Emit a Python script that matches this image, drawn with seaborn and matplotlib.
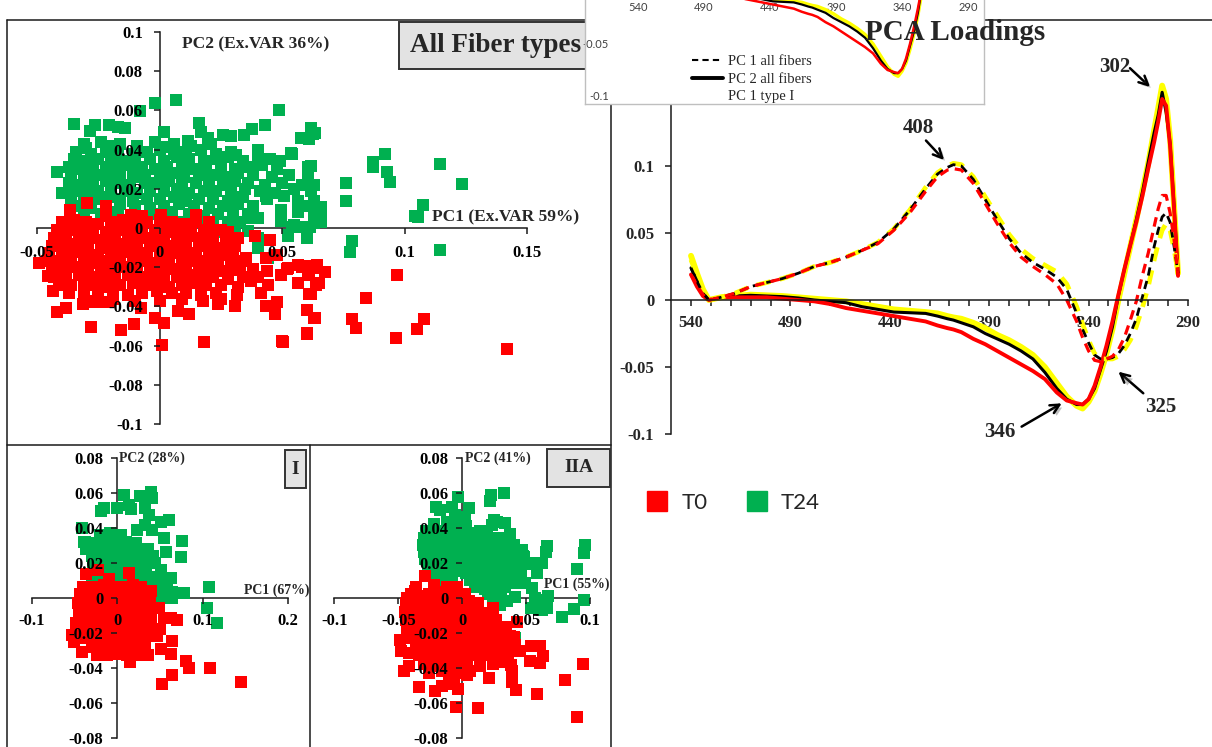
import matplotlib
matplotlib.use("Agg")
import matplotlib.pyplot as plt
import matplotlib.patheffects as pe
from matplotlib.patches import Rectangle
from matplotlib.lines import Line2D
import seaborn as sns

# ---------------- data ----------------
wavelength = [540, 537, 534, 531, 525, 518, 510, 502, 494, 486, 478, 470, 462, 454, 446, 438, 430, 422, 416,
              411, 408, 404, 398, 392, 386, 380, 374, 368, 362, 356, 351, 346, 343, 340, 337, 334, 331, 328,
              325, 322, 319, 316, 313, 310, 307, 305, 303, 301, 299, 297, 295]
pc1_all = [0.024, 0.014, 0.005, 0.000, 0.002, 0.005, 0.010, 0.013, 0.016, 0.020, 0.025, 0.028, 0.032, 0.037,
           0.043, 0.053, 0.067, 0.083, 0.094, 0.099, 0.101, 0.100, 0.090, 0.075, 0.060, 0.046, 0.035, 0.028,
           0.023, 0.017, 0.008, -0.010, -0.022, -0.032, -0.041, -0.044, -0.044, -0.043, -0.040, -0.034,
           -0.025, -0.014, 0.002, 0.018, 0.040, 0.052, 0.062, 0.065, 0.058, 0.040, 0.020]
pc1_type1 = [0.019, 0.011, 0.004, 0.000, 0.002, 0.005, 0.010, 0.013, 0.016, 0.020, 0.025, 0.028, 0.032, 0.037,
             0.042, 0.052, 0.065, 0.081, 0.092, 0.097, 0.098, 0.097, 0.087, 0.072, 0.057, 0.043, 0.032, 0.025,
             0.019, 0.012, 0.000, -0.016, -0.028, -0.038, -0.045, -0.046, -0.044, -0.042, -0.037, -0.028,
             -0.015, -0.001, 0.018, 0.035, 0.055, 0.068, 0.078, 0.078, 0.065, 0.045, 0.018]
pc1_type2a = [0.030, 0.018, 0.007, 0.000, 0.002, 0.005, 0.010, 0.013, 0.016, 0.020, 0.025, 0.028, 0.032, 0.037,
              0.043, 0.053, 0.067, 0.084, 0.095, 0.100, 0.102, 0.101, 0.092, 0.077, 0.063, 0.049, 0.038, 0.031,
              0.026, 0.021, 0.012, -0.005, -0.018, -0.030, -0.040, -0.044, -0.044, -0.044, -0.042, -0.037,
              -0.030, -0.020, -0.006, 0.010, 0.030, 0.042, 0.052, 0.057, 0.052, 0.038, 0.020]
pc2_all = [0.024, 0.014, 0.005, 0.000, 0.002, 0.003, 0.0035, 0.003, 0.0025, 0.0015, 0.000, -0.001, -0.002,
           -0.005, -0.007, -0.009, -0.0095, -0.010, -0.012, -0.014, -0.015, -0.017, -0.020, -0.025, -0.029,
           -0.033, -0.038, -0.044, -0.054, -0.066, -0.074, -0.078, -0.078, -0.074, -0.066, -0.052, -0.038,
           -0.020, 0.003, 0.023, 0.041, 0.060, 0.080, 0.103, 0.125, 0.138, 0.155, 0.140, 0.117, 0.070, 0.020]
pc2_type1 = [0.019, 0.010, 0.003, 0.000, 0.002, 0.002, 0.002, 0.002, 0.001, 0.000, -0.001, -0.003, -0.006,
             -0.008, -0.010, -0.012, -0.014, -0.016, -0.019, -0.021, -0.022, -0.024, -0.029, -0.033, -0.038,
             -0.043, -0.048, -0.053, -0.059, -0.069, -0.075, -0.077, -0.078, -0.074, -0.064, -0.050, -0.034,
             -0.016, 0.004, 0.023, 0.041, 0.058, 0.077, 0.098, 0.118, 0.133, 0.150, 0.145, 0.115, 0.068, 0.018]
pc2_type2a = [0.033, 0.020, 0.008, 0.000, 0.002, 0.003, 0.004, 0.0035, 0.003, 0.002, 0.001, 0.000, -0.001,
              -0.003, -0.005, -0.007, -0.008, -0.009, -0.010, -0.012, -0.013, -0.014, -0.017, -0.021, -0.026,
              -0.030, -0.035, -0.041, -0.050, -0.062, -0.072, -0.079, -0.081, -0.076, -0.068, -0.055, -0.040,
              -0.022, 0.000, 0.020, 0.040, 0.060, 0.081, 0.102, 0.127, 0.143, 0.160, 0.150, 0.120, 0.070, 0.020]

# scores, all fiber types (PC1, PC2)
all_t24 = [
    (-0.031, 0.043), (-0.024, 0.044), (-0.016, 0.043), (-0.009, 0.042), (-0.002, 0.044), (0.006, 0.043), (0.013, 0.042), (0.021, 0.043),
    (-0.034, 0.039), (-0.028, 0.038), (-0.022, 0.039), (-0.017, 0.040), (-0.011, 0.038), (-0.005, 0.039), (0.000, 0.040), (0.006, 0.038),
    (0.011, 0.039), (0.017, 0.040), (0.023, 0.038), (0.029, 0.039), (0.040, 0.040),
    (-0.035, 0.035), (-0.030, 0.034), (-0.025, 0.035), (-0.020, 0.036), (-0.015, 0.034), (-0.010, 0.035), (-0.004, 0.035), (0.002, 0.034),
    (0.007, 0.036), (0.012, 0.035), (0.018, 0.034), (0.023, 0.035), (0.028, 0.036), (0.034, 0.034), (0.045, 0.035),
    (-0.037, 0.031), (-0.032, 0.030), (-0.027, 0.031), (-0.022, 0.031), (-0.017, 0.030), (-0.012, 0.032), (-0.007, 0.031), (-0.002, 0.030),
    (0.003, 0.031), (0.009, 0.032), (0.014, 0.030), (0.019, 0.031), (0.025, 0.031), (0.031, 0.030), (0.037, 0.031), (0.042, 0.032), (0.048, 0.030),
    (-0.036, 0.027), (-0.031, 0.026), (-0.026, 0.027), (-0.021, 0.028), (-0.016, 0.027), (-0.011, 0.026), (-0.006, 0.027), (0.000, 0.027),
    (0.005, 0.028), (0.010, 0.026), (0.016, 0.027), (0.021, 0.027), (0.026, 0.026), (0.032, 0.028), (0.038, 0.027), (0.046, 0.026), (0.053, 0.027),
    (-0.037, 0.023), (-0.032, 0.022), (-0.027, 0.023), (-0.022, 0.024), (-0.017, 0.023), (-0.012, 0.022), (-0.006, 0.023), (-0.001, 0.023),
    (0.004, 0.024), (0.009, 0.022), (0.015, 0.023), (0.020, 0.023), (0.026, 0.022), (0.031, 0.024), (0.036, 0.023), (0.043, 0.022), (0.050, 0.023),
    (-0.035, 0.019), (-0.030, 0.018), (-0.025, 0.019), (-0.020, 0.020), (-0.014, 0.019), (-0.009, 0.018), (-0.004, 0.019), (0.002, 0.019),
    (0.007, 0.020), (0.012, 0.018), (0.018, 0.019), (0.023, 0.019), (0.029, 0.018), (0.035, 0.020), (0.041, 0.019), (0.047, 0.018),
    (-0.036, 0.015), (-0.031, 0.014), (-0.026, 0.015), (-0.021, 0.016), (-0.016, 0.015), (-0.011, 0.014), (-0.005, 0.015), (0.000, 0.015),
    (0.006, 0.016), (0.011, 0.014), (0.016, 0.015), (0.022, 0.015), (0.028, 0.014), (0.034, 0.016), (0.044, 0.015),
    (-0.034, 0.011), (-0.028, 0.010), (-0.022, 0.011), (-0.016, 0.012), (-0.010, 0.011), (-0.004, 0.010), (0.002, 0.011), (0.008, 0.012),
    (0.014, 0.011), (0.020, 0.010), (0.026, 0.011), (0.032, 0.012), (0.038, 0.011),
    (-0.031, 0.007), (-0.024, 0.007), (-0.017, 0.008), (-0.010, 0.007), (-0.003, 0.007), (0.005, 0.008), (0.012, 0.007), (0.018, 0.006),
    (0.024, 0.007), (0.030, 0.008), (0.036, 0.007), (0.010, 0.003), (0.016, 0.003), (0.022, 0.002), (0.028, 0.003), (0.033, 0.003),
    (0.020, -0.002), (0.026, -0.002), (0.031, -0.003),
    (-0.002, 0.0638), (0.0068, 0.0655), (-0.0078, 0.0595), (0.0487, 0.060), (-0.0347, 0.0532), (-0.0265, 0.0527), (-0.0283, 0.0493),
    (-0.0208, 0.0527), (-0.017, 0.0514), (-0.014, 0.051), (0.0018, 0.0488), (0.016, 0.0536), (0.017, 0.049), (0.026, 0.0476),
    (0.029, 0.0468), (0.0344, 0.0476), (0.0377, 0.0505), (0.043, 0.0524), (0.0619, 0.051), (0.0633, 0.0485), (0.061, 0.0456),
    (0.0576, 0.0459), (0.0537, 0.0383), (0.049, 0.034), (0.0619, 0.0315), (0.040, 0.0349), (0.0313, 0.0374), (-0.042, 0.0286),
    (-0.040, 0.0179), (-0.036, 0.028), (-0.030, 0.0408), (-0.019, 0.042), (0.0027, 0.0412), (0.0116, 0.0442), (0.0197, 0.0459),
    (0.0605, 0.0255), (0.063, 0.022), (0.051, 0.0162), (0.0565, 0.0136), (0.062, 0.0187), (0.063, 0.0136), (0.0497, 0.0094),
    (0.0565, 0.0085), (0.061, 0.011), (0.063, 0.0077), (0.0497, 0.0034), (0.055, 0.0017), (0.063, 0.0026), (0.0524, -0.0034),
    (0.060, -0.005), (0.0435, 0.0162), (0.036, 0.005), (0.040, 0.005), (0.036, -0.0017), (0.040, -0.005), (0.040, -0.010),
    (0.0442, -0.0153), (0.029, -0.0017), (0.0628, 0.048), (0.054, 0.038), (0.0607, 0.031), (0.055, 0.020), (0.058, 0.022),
    (0.0661, 0.0109), (0.0566, 0.0083), (0.066, 0.0066), (0.066, 0.003), (0.054, 0.0007), (0.058, 0.0007), (0.0614, 0.0007),
    (0.0525, -0.004), (0.0604, -0.0053), (0.076, 0.0232), (0.0763, 0.0139), (0.0787, -0.0065), (0.0777, -0.0121), (0.0872, 0.0338),
    (0.0872, 0.031), (0.0922, 0.0378), (0.093, 0.0287), (0.0941, 0.0236), (0.1146, 0.0325), (0.1235, 0.0223), (0.1076, 0.0117),
    (0.1042, 0.0061), (0.1056, 0.0058), (0.1146, -0.011),
]
all_t0 = [
    (-0.040, 0.003), (-0.035, 0.004), (-0.030, 0.003), (-0.025, 0.002), (-0.020, 0.003), (-0.015, 0.004), (-0.010, 0.003), (-0.005, 0.003),
    (0.000, 0.004), (0.005, 0.003), (0.010, 0.002), (0.015, 0.003), (0.020, 0.003),
    (-0.042, -0.001), (-0.037, -0.001), (-0.032, 0.000), (-0.027, -0.001), (-0.022, -0.002), (-0.017, -0.001), (-0.012, 0.000), (-0.007, -0.001),
    (-0.002, -0.001), (0.003, -0.002), (0.008, -0.001), (0.013, 0.000), (0.018, -0.001), (0.023, -0.001), (0.028, -0.002),
    (-0.043, -0.005), (-0.038, -0.005), (-0.033, -0.004), (-0.028, -0.005), (-0.023, -0.006), (-0.018, -0.005), (-0.013, -0.004), (-0.008, -0.005),
    (-0.003, -0.005), (0.002, -0.006), (0.007, -0.005), (0.012, -0.004), (0.017, -0.005), (0.022, -0.005), (0.027, -0.006), (0.032, -0.005),
    (-0.044, -0.009), (-0.039, -0.009), (-0.034, -0.008), (-0.029, -0.009), (-0.024, -0.010), (-0.019, -0.009), (-0.014, -0.008), (-0.009, -0.009),
    (-0.004, -0.009), (0.001, -0.010), (0.006, -0.009), (0.011, -0.008), (0.016, -0.009), (0.021, -0.009), (0.026, -0.010), (0.031, -0.009),
    (-0.045, -0.013), (-0.040, -0.013), (-0.035, -0.012), (-0.030, -0.013), (-0.025, -0.014), (-0.020, -0.013), (-0.015, -0.012), (-0.010, -0.013),
    (-0.005, -0.013), (0.000, -0.014), (0.005, -0.013), (0.010, -0.012), (0.015, -0.013), (0.020, -0.013), (0.025, -0.014), (0.030, -0.013),
    (-0.046, -0.017), (-0.041, -0.017), (-0.036, -0.016), (-0.031, -0.017), (-0.026, -0.018), (-0.021, -0.017), (-0.016, -0.016), (-0.011, -0.017),
    (-0.006, -0.017), (-0.001, -0.018), (0.004, -0.017), (0.009, -0.016), (0.014, -0.017), (0.019, -0.017), (0.024, -0.018), (0.029, -0.017), (0.034, -0.017),
    (-0.044, -0.021), (-0.039, -0.021), (-0.034, -0.020), (-0.029, -0.021), (-0.024, -0.022), (-0.019, -0.021), (-0.014, -0.020), (-0.009, -0.021),
    (-0.004, -0.021), (0.001, -0.022), (0.006, -0.021), (0.011, -0.020), (0.016, -0.021), (0.021, -0.021), (0.026, -0.022), (0.031, -0.021),
    (0.038, -0.021), (0.044, -0.022),
    (-0.043, -0.025), (-0.038, -0.025), (-0.033, -0.024), (-0.028, -0.025), (-0.023, -0.026), (-0.018, -0.025), (-0.013, -0.024), (-0.008, -0.025),
    (-0.003, -0.025), (0.002, -0.026), (0.007, -0.025), (0.012, -0.024), (0.017, -0.025), (0.022, -0.025), (0.028, -0.026), (0.034, -0.025), (0.040, -0.025),
    (-0.041, -0.029), (-0.036, -0.029), (-0.031, -0.028), (-0.026, -0.029), (-0.021, -0.030), (-0.016, -0.029), (-0.011, -0.028), (-0.006, -0.029),
    (-0.001, -0.029), (0.004, -0.030), (0.009, -0.029), (0.014, -0.028), (0.019, -0.029), (0.025, -0.029), (0.032, -0.030),
    (-0.037, -0.033), (-0.031, -0.033), (-0.025, -0.032), (-0.019, -0.033), (-0.013, -0.034), (-0.007, -0.033), (-0.001, -0.032), (0.005, -0.033),
    (0.011, -0.033), (0.017, -0.034), (0.023, -0.033), (-0.028, -0.037), (-0.019, -0.036), (-0.010, -0.037), (0.000, -0.037), (0.009, -0.036),
    (-0.0367, 0.0094), (-0.0297, 0.0128), (-0.0218, 0.011), (-0.0218, 0.006), (-0.0116, 0.0068), (-0.007, 0.006), (0.0007, 0.0068),
    (0.015, 0.0068), (0.025, -0.001), (0.039, -0.004), (0.0449, -0.006), (0.0354, -0.0153), (0.0435, -0.0153), (0.048, -0.0136),
    (-0.049, -0.0179), (-0.0456, -0.0247), (-0.0435, -0.0323), (-0.0418, -0.043), (-0.038, -0.041), (-0.0313, -0.039), (-0.0286, -0.038),
    (-0.0279, -0.0507), (-0.0238, -0.038), (-0.0204, -0.038), (-0.0156, -0.052), (-0.0105, -0.049), (-0.0075, -0.041), (-0.002, -0.046),
    (0.002, -0.0485), (0.001, -0.0595), (0.018, -0.058), (0.0075, -0.0425), (0.0122, -0.0439), (0.0177, -0.0374), (0.0238, -0.039),
    (0.025, -0.036), (0.031, -0.040), (0.0317, -0.034), (0.028, -0.0247), (0.0327, -0.0213), (0.0374, -0.0272), (0.0415, -0.0332),
    (0.0442, -0.0289), (0.0435, -0.040), (0.047, -0.044), (0.048, -0.038), (0.0497, -0.0238), (0.0524, -0.0204), (0.0565, -0.0187),
    (0.060, -0.0196), (0.0565, -0.028), (0.061, -0.0238), (0.064, -0.0204), (0.064, -0.0289), (0.061, -0.0337), (0.060, -0.0417),
    (0.063, -0.046), (0.060, -0.0536), (0.050, -0.0575), (0.058, -0.0197), (0.0641, -0.0189), (0.0675, -0.0223), (0.052, -0.021),
    (0.0607, -0.0223), (0.0566, -0.0282), (0.0651, -0.0282), (0.0618, -0.0339), (0.0969, -0.024), (0.0842, -0.0356), (0.0604, -0.042),
    (0.0634, -0.0461), (0.0784, -0.0465), (0.080, -0.051), (0.108, -0.0465), (0.1049, -0.0517), (0.0965, -0.0563), (0.0601, -0.054),
    (0.142, -0.0618), (0.0505, -0.058),
]

# scores, type I fibers
type1_t24 = [
    (-0.020, 0.036), (-0.008, 0.037), (0.004, 0.036),
    (-0.038, 0.032), (-0.026, 0.031), (-0.014, 0.032), (-0.002, 0.033), (0.010, 0.032), (0.022, 0.031),
    (-0.036, 0.028), (-0.024, 0.027), (-0.012, 0.028), (0.000, 0.029), (0.012, 0.028), (0.024, 0.027), (0.036, 0.028),
    (-0.030, 0.024), (-0.018, 0.023), (-0.006, 0.024), (0.006, 0.025), (0.018, 0.024), (0.030, 0.023), (0.042, 0.024),
    (-0.028, 0.020), (-0.016, 0.019), (-0.004, 0.020), (0.008, 0.021), (0.020, 0.020), (0.032, 0.019), (0.044, 0.020),
    (-0.026, 0.016), (-0.014, 0.015), (-0.002, 0.016), (0.010, 0.017), (0.022, 0.016), (0.034, 0.015),
    (-0.024, 0.012), (-0.012, 0.011), (0.000, 0.012), (0.012, 0.013), (0.024, 0.012), (0.036, 0.011), (0.046, 0.012),
    (-0.030, 0.008), (-0.018, 0.008), (0.022, 0.008), (0.032, 0.007), (0.042, 0.008),
    (0.026, 0.004), (0.036, 0.004), (0.050, 0.004), (0.030, 0.000), (0.040, 0.000), (0.055, 0.000), (0.034, -0.004), (0.045, -0.004),
    (0.0078, 0.0587), (0.027, 0.0583), (0.039, 0.0606), (0.041, 0.0568), (0.0136, 0.053), (0.0156, 0.0507), (-0.0156, 0.051),
    (-0.0195, 0.0495), (0.000, 0.0514), (0.033, 0.051), (0.037, 0.0472), (0.0506, 0.0434), (0.0604, 0.0444), (0.0234, 0.0387),
    (0.033, 0.0415), (0.041, 0.0387), (-0.041, 0.0396), (0.0545, 0.0343), (0.076, 0.0324), (0.0748, 0.0234), (0.0565, 0.0263),
    (0.107, 0.0063), (0.105, -0.0057), (0.117, -0.0143), (0.078, 0.0025), (0.0643, 0.0034), (0.0643, -0.0004), (0.058, 0.0072),
    (0.0623, 0.011), (0.0506, 0.0158), (0.0487, 0.0091), (0.0428, -0.0004), (0.0467, 0.0025), (0.033, -0.0109), (-0.039, 0.032),
]
type1_t0 = [
    (-0.040, 0.006), (-0.028, 0.006), (-0.016, 0.007), (-0.004, 0.006), (0.008, 0.006), (0.018, 0.007), (0.028, 0.006),
    (-0.044, 0.002), (-0.032, 0.002), (-0.020, 0.001), (-0.008, 0.002), (0.004, 0.002), (0.016, 0.001), (0.026, 0.002), (0.034, 0.002),
    (-0.046, -0.003), (-0.034, -0.003), (-0.022, -0.002), (-0.010, -0.003), (0.002, -0.003), (0.014, -0.002), (0.026, -0.003), (0.038, -0.003),
    (-0.045, -0.008), (-0.033, -0.008), (-0.021, -0.007), (-0.009, -0.008), (0.003, -0.008), (0.015, -0.007), (0.027, -0.008), (0.039, -0.008),
    (-0.044, -0.013), (-0.032, -0.013), (-0.020, -0.012), (-0.008, -0.013), (0.004, -0.013), (0.016, -0.012), (0.028, -0.013), (0.040, -0.013),
    (-0.046, -0.018), (-0.034, -0.018), (-0.022, -0.017), (-0.010, -0.018), (0.002, -0.018), (0.014, -0.017), (0.026, -0.018), (0.038, -0.018), (0.050, -0.018),
    (-0.040, -0.023), (-0.028, -0.023), (-0.016, -0.022), (-0.004, -0.023), (0.008, -0.023), (0.020, -0.022), (0.032, -0.023),
    (-0.030, -0.028), (-0.018, -0.028), (-0.006, -0.027), (0.006, -0.028), (0.018, -0.028), (0.030, -0.027),
    (-0.024, -0.033), (-0.012, -0.033), (0.000, -0.032), (0.012, -0.033), (0.024, -0.033), (0.036, -0.033),
    (-0.037, 0.0133), (-0.0226, 0.0158), (-0.0097, 0.0107), (0.0136, 0.0143), (0.039, 0.004), (0.0487, -0.0057), (0.0545, -0.0118),
    (0.0623, -0.0118), (0.070, -0.0128), (0.0467, -0.0219), (0.0635, -0.0246), (0.0506, -0.0293), (0.0623, -0.0324), (0.0806, -0.0362),
    (0.0837, -0.0404), (0.108, -0.040), (0.145, -0.048), (0.0635, -0.0442), (0.0526, -0.0495), (0.0148, -0.037), (-0.041, -0.031),
    (-0.0506, -0.0251), (-0.0526, -0.0213), (-0.0487, -0.0147), (0.033, -0.028), (0.033, -0.0318), (0.0234, -0.0309),
]

# scores, type IIA fibers
type2a_t24 = [
    (-0.022, 0.042), (-0.012, 0.043), (-0.004, 0.042), (0.003, 0.041),
    (-0.028, 0.038), (-0.021, 0.037), (-0.014, 0.038), (-0.007, 0.039), (0.000, 0.038), (0.007, 0.037), (0.014, 0.038),
    (-0.030, 0.034), (-0.023, 0.033), (-0.016, 0.034), (-0.009, 0.035), (-0.002, 0.034), (0.005, 0.033), (0.012, 0.034), (0.019, 0.035), (0.026, 0.034),
    (-0.031, 0.030), (-0.024, 0.029), (-0.017, 0.030), (-0.010, 0.031), (-0.003, 0.030), (0.004, 0.029), (0.011, 0.030), (0.018, 0.031),
    (0.025, 0.030), (0.032, 0.029), (0.040, 0.030),
    (-0.030, 0.026), (-0.023, 0.025), (-0.016, 0.026), (-0.009, 0.027), (-0.002, 0.026), (0.005, 0.025), (0.012, 0.026), (0.019, 0.027),
    (0.026, 0.026), (0.033, 0.025), (0.040, 0.026), (0.047, 0.027),
    (-0.029, 0.022), (-0.022, 0.021), (-0.015, 0.022), (-0.008, 0.023), (-0.001, 0.022), (0.006, 0.021), (0.013, 0.022), (0.020, 0.023),
    (0.027, 0.022), (0.034, 0.021), (0.041, 0.022), (0.048, 0.023),
    (-0.027, 0.018), (-0.020, 0.017), (-0.013, 0.018), (-0.006, 0.019), (0.001, 0.018), (0.008, 0.017), (0.015, 0.018), (0.022, 0.019),
    (0.029, 0.018), (0.036, 0.017), (0.043, 0.018), (0.050, 0.019),
    (-0.025, 0.014), (-0.018, 0.013), (-0.011, 0.014), (-0.004, 0.015), (0.003, 0.014), (0.010, 0.013), (0.017, 0.014), (0.024, 0.015),
    (0.031, 0.014), (0.038, 0.013), (0.046, 0.014),
    (-0.022, 0.010), (-0.015, 0.009), (-0.008, 0.010), (0.006, 0.010), (0.013, 0.009), (0.020, 0.010), (0.028, 0.011), (0.036, 0.010),
    (0.010, 0.006), (0.018, 0.005), (0.025, 0.006), (0.033, 0.006), (0.020, 0.002), (0.030, 0.002), (0.024, -0.002), (0.035, -0.002),
    (0.0227, 0.0587), (0.0219, 0.055), (0.0323, 0.0597), (-0.0034, 0.0578), (-0.008, 0.052), (-0.0055, 0.0473), (-0.0206, 0.052),
    (-0.0172, 0.050), (0.005, 0.051), (0.0023, 0.0464), (0.0245, 0.0445), (0.027, 0.0435), (0.0336, 0.0426), (0.0232, 0.0416),
    (0.0375, 0.0363), (0.0154, 0.0378), (0.0297, 0.034), (0.031, 0.0302), (0.066, 0.0293), (0.065, 0.0264), (0.096, 0.0302),
    (0.0948, 0.0255), (0.0622, 0.0198), (0.0557, 0.0198), (0.0471, 0.0236), (0.0896, 0.0165), (0.0583, 0.0141), (0.0427, 0.0084),
    (0.0492, 0.0084), (0.0414, 0.0002), (0.0544, 0.0055), (0.057, 0.000), (0.0596, -0.0011), (0.0669, 0.0008), (0.054, -0.0059),
    (0.0622, -0.0068), (0.066, -0.0059), (0.0779, -0.0112), (0.087, -0.0063), (0.0948, -0.0011), (0.0297, -0.004), (0.0245, 0.0027),
    (0.0284, 0.0093), (0.0193, -0.0116), (0.041, -0.023),
]
type2a_t0 = [
    (-0.036, 0.006), (-0.022, 0.007), (-0.012, 0.006), (-0.004, 0.006),
    (-0.040, 0.002), (-0.033, 0.001), (-0.026, 0.002), (-0.019, 0.003), (-0.012, 0.002), (-0.005, 0.001), (0.002, 0.002),
    (-0.044, -0.003), (-0.037, -0.004), (-0.030, -0.003), (-0.023, -0.002), (-0.016, -0.003), (-0.009, -0.004), (-0.002, -0.003), (0.005, -0.002), (0.012, -0.003),
    (-0.045, -0.008), (-0.038, -0.009), (-0.031, -0.008), (-0.024, -0.007), (-0.017, -0.008), (-0.010, -0.009), (-0.003, -0.008), (0.004, -0.007),
    (0.011, -0.008), (0.018, -0.009),
    (-0.044, -0.013), (-0.037, -0.014), (-0.030, -0.013), (-0.023, -0.012), (-0.016, -0.013), (-0.009, -0.014), (-0.002, -0.013), (0.005, -0.012),
    (0.012, -0.013), (0.019, -0.014), (0.026, -0.013),
    (-0.043, -0.018), (-0.036, -0.019), (-0.029, -0.018), (-0.022, -0.017), (-0.015, -0.018), (-0.008, -0.019), (-0.001, -0.018), (0.006, -0.017),
    (0.013, -0.018), (0.020, -0.019), (0.027, -0.018), (0.034, -0.017),
    (-0.040, -0.023), (-0.033, -0.024), (-0.026, -0.023), (-0.019, -0.022), (-0.012, -0.023), (-0.005, -0.024), (0.002, -0.023), (0.009, -0.022),
    (0.016, -0.023), (0.023, -0.024), (0.030, -0.023), (0.037, -0.022),
    (-0.036, -0.028), (-0.029, -0.029), (-0.022, -0.028), (-0.015, -0.027), (-0.008, -0.028), (-0.001, -0.029), (0.006, -0.028), (0.013, -0.027),
    (0.020, -0.028), (0.027, -0.029), (0.034, -0.028), (0.041, -0.027),
    (-0.034, -0.033), (-0.027, -0.034), (-0.020, -0.033), (-0.013, -0.032), (-0.006, -0.033), (0.001, -0.034), (0.008, -0.033), (0.015, -0.032),
    (0.022, -0.033), (0.029, -0.034), (0.036, -0.033),
    (-0.030, -0.038), (-0.022, -0.039), (-0.014, -0.038), (-0.006, -0.037), (0.004, -0.038), (0.014, -0.039), (0.024, -0.038), (0.032, -0.037),
    (-0.026, -0.043), (-0.016, -0.042), (-0.005, -0.043), (0.006, -0.042),
    (-0.0289, 0.0122), (-0.0367, 0.0036), (-0.0432, 0.000), (-0.0159, 0.0008), (-0.004, 0.0036), (0.0237, -0.0059), (0.0427, -0.0139),
    (0.040, -0.0226), (0.0323, -0.0215), (-0.0484, -0.024), (-0.0477, -0.0306), (-0.0419, -0.0316), (-0.0458, -0.042), (-0.0419, -0.0392),
    (-0.0336, -0.0511), (-0.0211, -0.0534), (-0.0159, -0.0506), (-0.0068, -0.0492), (-0.0036, -0.0519), (-0.0047, -0.0625),
    (0.012, -0.0633), (0.0206, -0.0458), (0.0388, -0.0483), (0.0419, -0.053), (0.0583, -0.0549), (0.054, -0.0278), (0.0609, -0.0278),
    (0.0531, -0.0363), (0.0609, -0.0373), (0.063, -0.0331), (0.0453, -0.0306), (0.0383, -0.0382), (0.0388, -0.042), (0.080, -0.0468),
    (0.0943, -0.0376), (0.0898, -0.0683), (-0.0107, -0.0439), (0.0036, -0.0439), (0.0245, -0.0354),
]

RED = "#FF0000"
GREEN = "#00B050"
YELLOW = "#FFFF00"

# ---------------- figure ----------------
W, H = 1212, 747
sns.set_theme(style="white")
plt.rcParams["font.family"] = ["Liberation Serif", "DejaVu Serif"]
plt.rcParams["axes.unicode_minus"] = False
fig = plt.figure(figsize=(W / 100, H / 100), dpi=100)
fig.patch.set_facecolor("white")


def add_ax(x0, y0, x1, y1, **kw):
    return fig.add_axes([x0 / W, 1 - y1 / H, (x1 - x0) / W, (y1 - y0) / H], **kw)


def fx(px):
    return px / W


def fy(py):
    return 1 - py / H


def frame_line(x0, y0, x1, y1, color="#1a1a1a", lw=1.1, z=1):
    fig.add_artist(Line2D([fx(x0), fx(x1)], [fy(y0), fy(y1)], color=color, lw=lw, zorder=z))


def labelled_box(x0, y0, x1, y1, text, size, tx=None, z=5):
    fig.add_artist(Rectangle((fx(x0), fy(y1)), fx(x1) - fx(x0), fy(y0) - fy(y1), facecolor="#E3E3E3",
                             edgecolor="#333333", lw=1.4, zorder=z))
    cx = (x0 + x1) / 2 if tx is None else tx
    fig.text(fx(cx), fy((y0 + y1) / 2), text, ha="center" if tx is None else "left", va="center",
             fontsize=size, fontweight="bold", zorder=z + 1)


def cross_axes(ax, xt, xl, yt, yl, xpad, ypad):
    for s in ["top", "right"]:
        ax.spines[s].set_visible(False)
    for s in ["left", "bottom"]:
        ax.spines[s].set_position(("data", 0))
        ax.spines[s].set_color("#1a1a1a")
        ax.spines[s].set_linewidth(1.1)
    ax.set_xticks(xt, xl, fontsize=12, fontweight="bold")
    ax.set_yticks(yt, yl, fontsize=12, fontweight="bold")
    ax.tick_params(axis="both", bottom=True, left=True, direction="out", length=4, width=1.1,
                   color="#1a1a1a", labelcolor="black")
    ax.tick_params(axis="x", pad=xpad)
    ax.tick_params(axis="y", pad=ypad)
    ax.xaxis.set_zorder(4)
    ax.yaxis.set_zorder(4)
    ax.patch.set_alpha(0)
    ax.set_xlabel("")
    ax.set_ylabel("")


def scatter_pair(ax, green_pts, red_pts, size):
    gx, gy = zip(*green_pts)
    rx, ry = zip(*red_pts)
    sns.scatterplot(x=list(gx), y=list(gy), ax=ax, color=GREEN, marker="s", s=size, linewidth=0,
                    zorder=3, clip_on=False, legend=False)
    sns.scatterplot(x=list(rx), y=list(ry), ax=ax, color=RED, marker="s", s=size, linewidth=0,
                    zorder=3, clip_on=False, legend=False)


# panel frames
frame_line(7, 20, 611, 20)
frame_line(7, 20, 7, 747)
frame_line(611, 20, 611, 747)
frame_line(611, 20, 1212, 20)
frame_line(7, 445, 611, 445)
frame_line(310, 445, 310, 747)

# ---- all fiber types scatter ----
ax1 = add_ax(37, 32, 527, 424)
scatter_pair(ax1, all_t24, all_t0, 64)
ax1.set_xlim(-0.05, 0.15)
ax1.set_ylim(-0.1, 0.1)
cross_axes(ax1, [-0.05, 0, 0.05, 0.1, 0.15], ["-0.05", "0", "0.05", "0.1", "0.15"],
           [-0.1, -0.08, -0.06, -0.04, -0.02, 0, 0.02, 0.04, 0.06, 0.08, 0.1],
           ["-0.1", "-0.08", "-0.06", "-0.04", "-0.02", "0", "0.02", "0.04", "0.06", "0.08", "0.1"], 8, 8)
fig.text(fx(182), fy(44), "PC2 (Ex.VAR 36%)", ha="left", va="center", fontsize=12.5, fontweight="bold")
fig.text(fx(432), fy(217), "PC1 (Ex.VAR 59%)", ha="left", va="center", fontsize=12.5, fontweight="bold")
labelled_box(399, 22, 600, 69, "All Fiber types", 19.5, tx=410)

# ---- type I scatter ----
ax3 = add_ax(31.7, 457.7, 288.3, 737.7)
scatter_pair(ax3, type1_t24, type1_t0, 76)
ax3.set_xlim(-0.1, 0.2)
ax3.set_ylim(-0.08, 0.08)
cross_axes(ax3, [-0.1, 0, 0.1, 0.2], ["-0.1", "0", "0.1", "0.2"],
           [-0.08, -0.06, -0.04, -0.02, 0, 0.02, 0.04, 0.06, 0.08],
           ["-0.08", "-0.06", "-0.04", "-0.02", "0", "0.02", "0.04", "0.06", "0.08"], 7, 6)
fig.text(fx(119), fy(458), "PC2 (28%)", ha="left", va="center", fontsize=10, fontweight="bold")
fig.text(fx(309), fy(590), "PC1 (67%)", ha="right", va="center", fontsize=10, fontweight="bold")
labelled_box(285, 450, 306, 488, "I", 14)

# ---- type IIA scatter ----
ax4 = add_ax(334.3, 457.7, 590.3, 737.7)
scatter_pair(ax4, type2a_t24, type2a_t0, 76)
ax4.set_xlim(-0.1, 0.1)
ax4.set_ylim(-0.08, 0.08)
cross_axes(ax4, [-0.1, -0.05, 0, 0.05, 0.1], ["-0.1", "-0.05", "0", "0.05", "0.1"],
           [-0.08, -0.06, -0.04, -0.02, 0, 0.02, 0.04, 0.06, 0.08],
           ["-0.08", "-0.06", "-0.04", "-0.02", "0", "0.02", "0.04", "0.06", "0.08"], 7, 6)
fig.text(fx(465), fy(458), "PC2 (41%)", ha="left", va="center", fontsize=10, fontweight="bold")
fig.text(fx(610), fy(584), "PC1 (55%)", ha="right", va="center", fontsize=10, fontweight="bold")
labelled_box(547, 449, 610, 487, "IIA", 14)

# ---- loadings ----
ax2 = add_ax(671, 65.5, 1200, 434)
dash = (0, (3, 2))
series = [
    (pc2_type2a, YELLOW, 4.2, "-"), (pc2_all, "black", 2.2, "-"), (pc2_type1, RED, 2.8, "-"),
    (pc1_type2a, YELLOW, 3.4, dash), (pc1_all, "black", 2.0, dash), (pc1_type1, RED, 2.3, dash),
]
for vals, col, lw, ls in series:
    sns.lineplot(x=wavelength, y=vals, ax=ax2, sort=False, estimator=None, color=col, lw=lw,
                 linestyle=ls, legend=False)
ax2.set_xlim(550.06, 283.96)
ax2.set_ylim(-0.1, 0.175)
for s in ["top", "right"]:
    ax2.spines[s].set_visible(False)
ax2.spines["bottom"].set_position(("data", 0))
ax2.spines["bottom"].set_bounds(550.06, 290)
ax2.spines["left"].set_bounds(-0.1, 0.15)
for s in ["left", "bottom"]:
    ax2.spines[s].set_color("#1a1a1a")
    ax2.spines[s].set_linewidth(1.1)
xt = list(range(540, 289, -10))
ax2.set_xticks(xt, [str(t) if t % 50 == 40 else "" for t in xt], fontsize=12, fontweight="bold")
ax2.set_yticks([-0.1, -0.05, 0, 0.05, 0.1, 0.15], ["-0.1", "-0.05", "0", "0.05", "0.1", ""],
               fontsize=12, fontweight="bold")
ax2.tick_params(axis="both", bottom=True, left=True, direction="out", length=4, width=1.1, color="#1a1a1a")
ax2.tick_params(axis="x", pad=7)
ax2.tick_params(axis="y", pad=8)
ax2.patch.set_alpha(0)
ax2.set_xlabel("")
ax2.set_ylabel("")

shadow = [pe.SimplePatchShadow(offset=(2, -2), alpha=0.35), pe.Normal()]
notes = [("408", (425.8, 0.128), (421.8, 0.119), (412.7, 0.1045)),
         ("302", (326.7, 0.174), (319.2, 0.173), (309.1, 0.159)),
         ("346", (384.6, -0.0985), (373.7, -0.0945), (353.5, -0.0771)),
         ("325", (303.6, -0.080), (312.5, -0.0696), (325.0, -0.0535))]
for txt, tpos, tail, head in notes:
    ax2.text(tpos[0], tpos[1], txt, ha="center", va="center", fontsize=15, fontweight="bold", zorder=6)
    ax2.annotate("", xy=head, xytext=tail, annotation_clip=False,
                 arrowprops=dict(arrowstyle="->", lw=1.8, color="black", mutation_scale=16,
                                 shrinkA=0, shrinkB=0, path_effects=shadow))

fig.text(fx(955), fy(33), "PCA Loadings", ha="center", va="center", fontsize=21, fontweight="bold", zorder=20)

# ---- overlapping inset (cropped legend view) ----
axi = add_ax(585, 0, 984, 104)
axi.set_zorder(10)
axi.set_facecolor("white")
for vals, col, lw in [(pc2_type2a, YELLOW, 2.6), (pc2_all, "black", 1.6), (pc2_type1, RED, 1.8)]:
    sns.lineplot(x=wavelength, y=vals, ax=axi, sort=False, estimator=None, color=col, lw=lw, legend=False)
axi.set_xlim(580.2, 277.9)
axi.set_ylim(-0.1077, -0.0077)
for s in axi.spines.values():
    s.set_color("#BFBFBF")
    s.set_linewidth(1.0)
axi.spines["top"].set_visible(False)
axi.set_xticks([540, 490, 440, 390, 340, 290], ["540", "490", "440", "390", "340", "290"])
axi.set_yticks([-0.05, -0.1], ["-0.05", "-0.1"])
axi.tick_params(axis="x", length=0, labeltop=True, labelbottom=False, top=False, bottom=False, pad=-9.5,
                labelsize=8, labelcolor="#404040")
axi.tick_params(axis="y", length=0, left=False, pad=-17, labelsize=8, labelcolor="#404040")
for t in axi.get_xticklabels() + axi.get_yticklabels():
    t.set_fontfamily(["Lato", "DejaVu Sans"])
axi.set_xlabel("")
axi.set_ylabel("")
handles = [Line2D([], [], color="black", lw=1.5, linestyle=(0, (3, 2))),
           Line2D([], [], color="black", lw=2.8),
           Line2D([], [], color="none", lw=1.5)]
axi.legend(handles, ["PC 1 all fibers", "PC 2 all fibers", "PC 1 type I"], loc="upper left",
           bbox_to_anchor=((692 - 585) / 399, 1 - 55 / 104), frameon=False, fontsize=10.5,
           handlelength=2.1, handletextpad=0.35, labelspacing=0.3, borderaxespad=0, borderpad=0)

# ---- group legend ----
gh = [Line2D([], [], marker="s", color=RED, ls="none", markersize=14.5),
      Line2D([], [], marker="s", color=GREEN, ls="none", markersize=14.5)]
fig.legend(gh, ["T0", "T24"], loc="center left", bbox_to_anchor=(fx(646), fy(503)), ncol=2, frameon=False,
           prop={"family": ["Lato", "DejaVu Sans"], "size": 16}, handlelength=1.0, handletextpad=0.6,
           columnspacing=1.7, borderpad=0, borderaxespad=0)

fig.savefig("out.png", dpi=100, facecolor="white")
